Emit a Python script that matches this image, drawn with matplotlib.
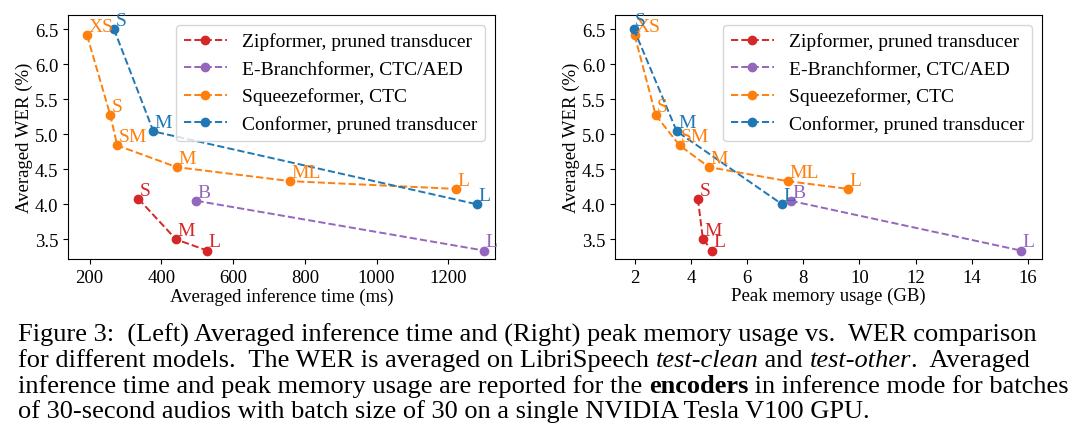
import matplotlib
matplotlib.use("Agg")
import matplotlib.pyplot as plt

plt.rcParams['font.family'] = ['Liberation Serif']

zip_labels = ["S", "M", "L"]
zip_time = [336, 441, 528]
zip_mem = [4.25, 4.43, 4.76]
zip_wer = [4.08, 3.50, 3.34]

eb_labels = ["B", "L"]
eb_time = [498, 1300]
eb_mem = [7.55, 15.75]
eb_wer = [4.05, 3.34]

sq_labels = ["XS", "S", "SM", "M", "ML", "L"]
sq_time = [193, 258, 277, 443, 760, 1220]
sq_mem = [2.0, 2.75, 3.6, 4.65, 7.45, 9.6]
sq_wer = [6.41, 5.27, 4.84, 4.53, 4.33, 4.22]

cf_labels = ["S", "M", "L"]
cf_time = [268, 378, 1280]
cf_mem = [1.97, 3.5, 7.25]
cf_wer = [6.50, 5.04, 4.00]

series = [
    ("Zipformer, pruned transducer", "#d62728", zip_labels, zip_time, zip_mem, zip_wer),
    ("E-Branchformer, CTC/AED", "#9467bd", eb_labels, eb_time, eb_mem, eb_wer),
    ("Squeezeformer, CTC", "#ff7f0e", sq_labels, sq_time, sq_mem, sq_wer),
    ("Conformer, pruned transducer", "#1f77b4", cf_labels, cf_time, cf_mem, cf_wer),
]

fig = plt.figure(figsize=(10.8, 4.39), dpi=100)
W, H = 1080, 439
axL = fig.add_axes([68/W, 1-260/H, (495-68)/W, (260-16)/H])
axR = fig.add_axes([615/W, 1-260/H, (1042-615)/W, (260-16)/H])

for ax, idx, xlabel in [(axL, 3, "Averaged inference time (ms)"), (axR, 4, "Peak memory usage (GB)")]:
    for name, c, labs, t, m, w in series:
        xs = t if idx == 3 else m
        ax.plot(xs, w, '--o', color=c, markersize=6, label=name, lw=1.4)
        for lab, x, y in zip(labs, xs, w):
            ax.annotate(lab, (x, y), xytext=(1, 3), textcoords='offset points',
                        color=c, fontsize=14)
    ax.set_xlabel(xlabel, fontsize=13.5, labelpad=1)
    ax.set_ylabel("Averaged WER (%)", fontsize=13.5, labelpad=1)
    ax.set_ylim(3.22, 6.7)
    ax.set_yticks([3.5, 4.0, 4.5, 5.0, 5.5, 6.0, 6.5])
    ax.tick_params(labelsize=13.5)
    ax.legend(loc='upper right', fontsize=14, framealpha=0.8, handlelength=2.2)
axL.set_xlim(140, 1330)
axL.set_xticks([200, 400, 600, 800, 1000, 1200])
axR.set_xlim(1.3, 16.5)
axR.set_xticks([2, 4, 6, 8, 10, 12, 14, 16])

lines = [
    [("Figure 3:  (Left) Averaged inference time and (Right) peak memory usage vs.  WER comparison", "normal", "normal")],
    [("for different models.  The WER is averaged on LibriSpeech ", "normal", "normal"),
     ("test-clean", "italic", "normal"), (" and ", "normal", "normal"),
     ("test-other", "italic", "normal"), (".  Averaged", "normal", "normal")],
    [("inference time and peak memory usage are reported for the ", "normal", "normal"),
     ("encoders", "normal", "bold"), (" in inference mode for batches", "normal", "normal")],
    [("of 30-second audios with batch size of 30 on a single NVIDIA Tesla V100 GPU.", "normal", "normal")],
]
fig.canvas.draw()
r = fig.canvas.get_renderer()
ys = [335, 361, 387, 412]
for segs, yp in zip(lines, ys):
    x = 18
    for txt, style, weight in segs:
        t = fig.text(x/W, 1-yp/H, txt, fontsize=19, style=style, weight=weight, va='center', ha='left')
        bb = t.get_window_extent(renderer=r)
        x += bb.width

fig.savefig("out.png", dpi=100)
